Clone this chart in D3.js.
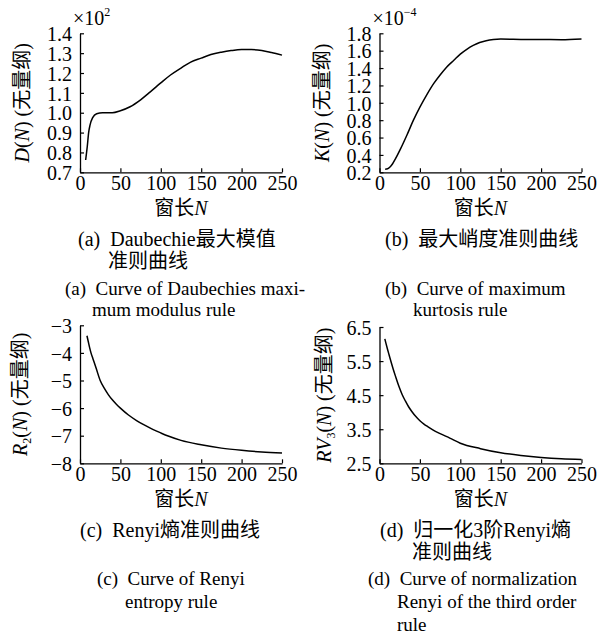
<!DOCTYPE html>
<html>
<head>
<meta charset="utf-8">
<script src="https://cdn.jsdelivr.net/npm/d3@7"></script>
<style>
  body { margin: 0; background: #fff; }
  svg text { font-family: "Liberation Serif", "Times New Roman", "Noto Sans CJK SC", serif; fill: #000; }
</style>
</head>
<body>
<svg id="fig" width="600" height="635"></svg>
<script>
// Window length N (x) and criterion values for each of the four curves
const windowA = [7, 9, 10.7, 12.4, 15.7, 20.6, 28, 40, 50, 62, 75, 87, 100, 112, 125, 137, 150, 162, 175, 187, 200, 212, 225, 237, 250];
const daubechiesA = [0.762, 0.83, 0.90, 0.938, 0.975, 0.995, 1.0, 1.0, 1.01, 1.03, 1.065, 1.105, 1.15, 1.19, 1.225, 1.255, 1.275, 1.293, 1.305, 1.313, 1.318, 1.318, 1.313, 1.303, 1.29];

const windowB = [7, 10, 13, 16, 20, 26, 34, 42, 50, 59, 67, 75, 83, 92, 100, 108, 116, 124, 132, 141, 150, 175, 200, 225, 250];
const kurtosisB = [0.235, 0.24, 0.26, 0.295, 0.36, 0.47, 0.63, 0.80, 0.95, 1.10, 1.22, 1.32, 1.41, 1.49, 1.56, 1.615, 1.66, 1.695, 1.715, 1.728, 1.733, 1.730, 1.728, 1.727, 1.735];

const windowC = [8.6, 10, 12, 13.6, 16, 20, 25, 30, 35, 40, 45, 50, 60, 70, 80, 90, 100, 110, 125, 150, 175, 200, 225, 250];
const renyiC = [-3.38, -3.56, -3.82, -4.0, -4.21, -4.56, -5.0, -5.28, -5.51, -5.70, -5.86, -6.0, -6.25, -6.45, -6.62, -6.77, -6.9, -7.02, -7.17, -7.33, -7.45, -7.53, -7.59, -7.63];

const windowD = [6.6, 8, 10, 12, 14, 17, 20, 24, 28, 32, 36, 40, 45, 50, 55, 60, 66, 75, 87, 100, 125, 150, 175, 200, 225, 250];
const renyi3D = [6.15, 6.02, 5.84, 5.67, 5.5, 5.26, 5.04, 4.76, 4.52, 4.33, 4.16, 4.02, 3.87, 3.75, 3.65, 3.57, 3.48, 3.37, 3.24, 3.09, 2.93, 2.81, 2.73, 2.67, 2.63, 2.61];

// Tick values
const xTicks = [0, 50, 100, 150, 200, 250];
const ticksA = [0.7, 0.8, 0.9, 1.0, 1.1, 1.2, 1.3, 1.4];
const ticksB = [0.2, 0.4, 0.6, 0.8, 1.0, 1.2, 1.4, 1.6, 1.8];
const ticksC = [-3, -4, -5, -6, -7, -8];
const ticksD = [2.5, 3.5, 4.5, 5.5, 6.5];

const svg = d3.select("#fig");

const panels = [
  { left: 80, right: 282, top: 33.3, bottom: 172.3, domain: [0.7, 1.4], ticks: ticksA, fmt: d3.format(".1f"),
    xs: windowA, ys: daubechiesA, titleX: 29,
    title: [["D", true], ["(", false], ["N", true], [") (无量纲)", false]], scaleNote: "2" },
  { left: 379.5, right: 581.5, top: 33.3, bottom: 172.3, domain: [0.2, 1.8], ticks: ticksB, fmt: d3.format(".1f"),
    xs: windowB, ys: kurtosisB, titleX: 329,
    title: [["K", true], ["(", false], ["N", true], [") (无量纲)", false]], scaleNote: "−4" },
  { left: 80, right: 282, top: 325.3, bottom: 463.3, domain: [-8, -3], ticks: ticksC, fmt: d3.format("d"),
    xs: windowC, ys: renyiC, titleX: 27,
    title: [["R", true], ["2", "sub"], ["(", false], ["N", true], [") (无量纲)", false]] },
  { left: 379.5, right: 581.5, top: 327, bottom: 463.3, domain: [2.5, 6.5], ticks: ticksD, fmt: d3.format(".1f"),
    xs: windowD, ys: renyi3D, titleX: 331,
    title: [["RV", true], ["3", "sub"], ["(", false], ["N", true], [") (无量纲)", false]] }
];

panels.forEach(p => {
  const x = d3.scaleLinear().domain([0, 250]).range([p.left, p.right]);
  const y = d3.scaleLinear().domain(p.domain).range([p.bottom, p.top]);
  const g = svg.append("g");

  // x axis with inward ticks
  const gx = g.append("g").attr("transform", `translate(0,${p.bottom})`)
    .call(d3.axisBottom(x).tickValues(xTicks).tickSizeInner(-4).tickSizeOuter(0).tickPadding(3));
  // y axis with inward ticks
  const gy = g.append("g").attr("transform", `translate(${p.left},0)`)
    .call(d3.axisLeft(y).tickValues(p.ticks).tickFormat(p.fmt).tickSizeInner(-4).tickSizeOuter(0).tickPadding(8));

  [gx, gy].forEach(a => {
    a.attr("font-family", null);
    a.selectAll("path.domain").attr("stroke", "#000").attr("stroke-width", 1.3);
    a.selectAll(".tick line").attr("stroke", "#000").attr("stroke-width", 1.2);
    a.selectAll(".tick text").attr("font-size", 20).attr("fill", "#000")
      .style("font-family", '"Liberation Serif", "Times New Roman", serif');
  });
  gy.selectAll(".tick text").attr("dy", "0.36em");

  // curve
  const line = d3.line().x((d, i) => x(p.xs[i])).y(d => y(d)).curve(d3.curveMonotoneX);
  g.append("path").datum(p.ys).attr("d", line)
    .attr("fill", "none").attr("stroke", "#000").attr("stroke-width", 1.5);

  // y axis title
  const cy = (p.top + p.bottom) / 2;
  const t = g.append("text").attr("font-size", 20).attr("text-anchor", "middle")
    .attr("transform", `translate(${p.titleX},${cy}) rotate(-90)`);
  p.title.forEach(([s, kind], i) => {
    const ts = t.append("tspan").text(s);
    if (kind === true) ts.attr("font-style", "italic");
    if (kind === "sub") ts.attr("font-size", 12).attr("dy", 4);
    else if (i > 0 && p.title[i - 1][1] === "sub") ts.attr("dy", -4);
  });

  // x axis title
  const xt = g.append("text").attr("font-size", 20).attr("text-anchor", "middle")
    .attr("x", (p.left + p.right) / 2).attr("y", p.bottom + 43);
  xt.append("tspan").text("窗长");
  xt.append("tspan").attr("font-style", "italic").text("N");

  // scale factor note
  if (p.scaleNote) {
    const n = g.append("text").attr("font-size", 20).attr("x", p.left - 7).attr("y", 25);
    n.append("tspan").text("×10");
    n.append("tspan").attr("font-size", 12).attr("dy", -9).text(p.scaleNote);
  }
});

// sub-figure captions: Chinese lines, then English lines
const captionsZh = [
  ["(a)\u00a0\u00a0Daubechie最大模值", 78, 246],
  ["准则曲线", 108, 268],
  ["(b)\u00a0\u00a0最大峭度准则曲线", 385, 246],
  ["(c)\u00a0\u00a0Renyi熵准则曲线", 80, 537],
  ["(d)\u00a0\u00a0归一化3阶Renyi熵", 380, 537],
  ["准则曲线", 412, 559]
];
const captionsEn = [
  ["(a)\u00a0\u00a0Curve of Daubechies maxi-", 65, 295],
  ["mum modulus rule", 92, 316],
  ["(b)\u00a0\u00a0Curve of maximum", 385, 295],
  ["kurtosis rule", 413, 316],
  ["(c)\u00a0\u00a0Curve of Renyi", 97, 585],
  ["entropy rule", 125, 608],
  ["(d)\u00a0\u00a0Curve of normalization", 368, 585],
  ["Renyi of the third order", 397, 608],
  ["rule", 397, 631]
];
svg.append("g").selectAll("text").data(captionsZh).join("text")
  .attr("x", d => d[1]).attr("y", d => d[2]).attr("font-size", 20)
  .text(d => d[0]);
svg.append("g").selectAll("text").data(captionsEn).join("text")
  .attr("x", d => d[1]).attr("y", d => d[2]).attr("font-size", 19)
  .text(d => d[0]);
</script>
</body>
</html>
